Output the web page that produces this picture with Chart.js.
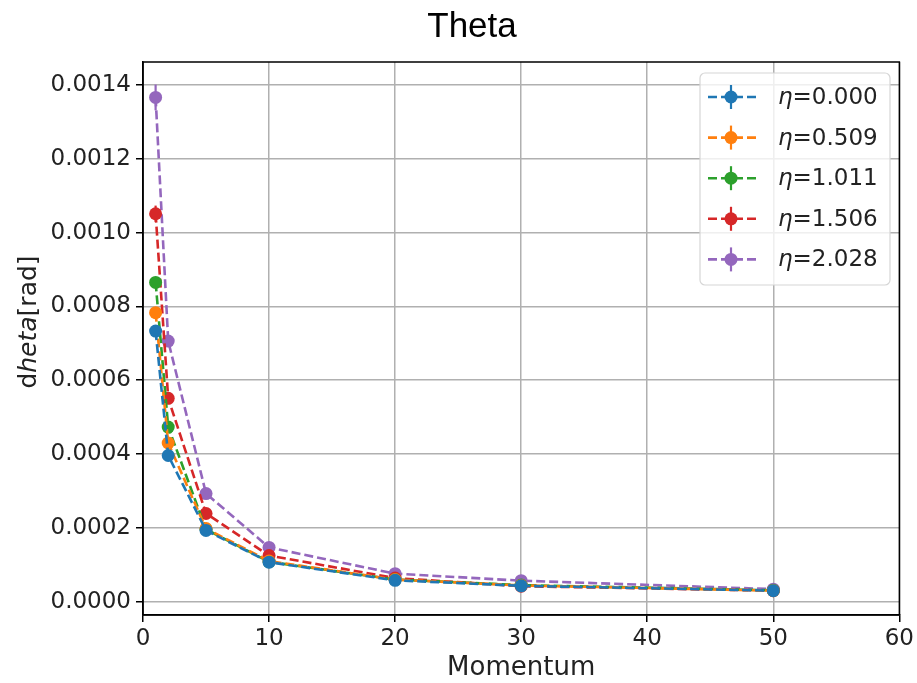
<!DOCTYPE html>
<html>
<head>
<meta charset="utf-8">
<script src="https://cdn.jsdelivr.net/npm/chart.js@4.4.0/dist/chart.umd.min.js"></script>
<style>
  html, body { margin: 0; padding: 0; background: #fff; }
</style>
</head>
<body>
<canvas id="thetaChart" width="917" height="683"></canvas>
<script>
// momentum points
const momentum = [1, 2, 5, 10, 20, 30, 50];
const etaNames = ["0.000", "0.509", "1.011", "1.506", "2.028"];
const yTickValues = [0.0000, 0.0002, 0.0004, 0.0006, 0.0008, 0.0010, 0.0012, 0.0014];

// dtheta values per eta bin
const eta0 = [0.000733, 0.000396, 0.000193, 0.000107, 0.000058, 0.000043, 0.000030];
const eta1 = [0.000783, 0.000430, 0.000198, 0.000110, 0.000060, 0.000044, 0.000030];
const eta2 = [0.000865, 0.000473, 0.000196, 0.000108, 0.000060, 0.000045, 0.000031];
const eta3 = [0.001051, 0.000551, 0.000239, 0.000125, 0.000064, 0.000042, 0.000030];
const eta4 = [0.001366, 0.000706, 0.000293, 0.000147, 0.000076, 0.000057, 0.000034];

// error bars (small)
const err0 = [0.000012, 0.000006, 0.000003, 0.000002, 0.000001, 0.000001, 0.000001];
const err1 = [0.000013, 0.000007, 0.000003, 0.000002, 0.000001, 0.000001, 0.000001];
const err2 = [0.000015, 0.000008, 0.000003, 0.000002, 0.000001, 0.000001, 0.000001];
const err3 = [0.000022, 0.000010, 0.000004, 0.000002, 0.000001, 0.000001, 0.000001];
const err4 = [0.000035, 0.000014, 0.000005, 0.000003, 0.000002, 0.000001, 0.000001];

const colors = ["#1f77b4", "#ff7f0e", "#2ca02c", "#d62728", "#9467bd"];
const allValues = [eta0, eta1, eta2, eta3, eta4];
const allErrors = [err0, err1, err2, err3, err4];

const tickFont = { family: "'DejaVu Sans'", size: 23 };

let datasets = allValues.map((vals, i) => ({
  label: "η=" + etaNames[i],
  data: momentum.map((m, j) => ({ x: m, y: vals[j] })),
  errors: allErrors[i],
  borderColor: colors[i],
  backgroundColor: colors[i],
  borderWidth: 2.6,
  borderDash: [9, 4],
  pointRadius: 6.5,
  pointBorderWidth: 0,
  pointBackgroundColor: colors[i],
  tension: 0,
  fill: false
}));

const errorBars = {
  id: "errorBars",
  beforeDatasetDraw(chart, args) {
    const ds = chart.data.datasets[args.index];
    const ys = chart.scales.y;
    const ctx = chart.ctx;
    ctx.save();
    ctx.strokeStyle = ds.borderColor;
    ctx.lineWidth = 2.2;
    args.meta.data.forEach((pt, j) => {
      const v = ds.data[j].y, e = ds.errors[j];
      ctx.beginPath();
      ctx.moveTo(pt.x, ys.getPixelForValue(v - e));
      ctx.lineTo(pt.x, ys.getPixelForValue(v + e));
      ctx.stroke();
    });
    ctx.restore();
  }
};

const decorations = {
  id: "decorations",
  afterDraw(chart) {
    const ctx = chart.ctx;
    const a = chart.chartArea;
    ctx.save();

    // frame
    ctx.strokeStyle = "#000";
    ctx.lineWidth = 1.5;
    ctx.strokeRect(a.left, a.top, a.right - a.left, a.bottom - a.top);

    // title
    ctx.fillStyle = "#000";
    ctx.font = "35px 'Liberation Sans'";
    ctx.textAlign = "center";
    ctx.textBaseline = "alphabetic";
    ctx.fillText("Theta", 472, 37);

    // x label
    ctx.fillStyle = "#222";
    ctx.font = "26px 'DejaVu Sans'";
    ctx.fillText("Momentum", (a.left + a.right) / 2, 675);

    // y label: d (upright) + heta (italic) + [rad]
    const parts = [["d", "25px 'DejaVu Sans'"], ["heta", "italic 25px 'DejaVu Sans'"], ["[rad]", "25px 'DejaVu Sans'"]];
    let total = 0;
    parts.forEach(p => { ctx.font = p[1]; total += ctx.measureText(p[0]).width; });
    ctx.translate(36, 322);
    ctx.rotate(-Math.PI / 2);
    ctx.textAlign = "left";
    let x = -total / 2;
    parts.forEach(p => { ctx.font = p[1]; ctx.fillText(p[0], x, 0); x += ctx.measureText(p[0]).width; });
    ctx.setTransform(1, 0, 0, 1, 0, 0);

    // legend
    const bx = 700, by = 73, bw = 190, bh = 212;
    ctx.beginPath();
    ctx.roundRect(bx, by, bw, bh, 5);
    ctx.fillStyle = "rgba(255,255,255,0.8)";
    ctx.fill();
    ctx.strokeStyle = "#d6d6d6";
    ctx.lineWidth = 1.2;
    ctx.stroke();
    chart.data.datasets.forEach((ds, i) => {
      const cy = 97 + i * 40.6;
      ctx.strokeStyle = ds.borderColor;
      ctx.lineWidth = 2.6;
      ctx.setLineDash([9, 4]);
      ctx.beginPath();
      ctx.moveTo(708, cy);
      ctx.lineTo(756, cy);
      ctx.stroke();
      ctx.setLineDash([]);
      ctx.lineWidth = 2.2;
      ctx.beginPath();
      ctx.moveTo(731, cy - 12);
      ctx.lineTo(731, cy + 12);
      ctx.stroke();
      ctx.fillStyle = ds.borderColor;
      ctx.beginPath();
      ctx.arc(731, cy, 6.5, 0, Math.PI * 2);
      ctx.fill();
      ctx.fillStyle = "#222";
      ctx.textBaseline = "middle";
      ctx.font = "italic 23px 'DejaVu Sans'";
      ctx.fillText("η", 778, cy + 1);
      const w = ctx.measureText("η").width;
      ctx.font = "23px 'DejaVu Sans'";
      ctx.fillText(ds.label.slice(1), 778 + w, cy + 1);
    });
    ctx.restore();
  }
};

new Chart(document.getElementById("thetaChart"), {
  type: "line",
  data: { datasets: datasets },
  options: {
    responsive: false,
    animation: false,
    layout: { padding: { top: 62, right: 16, left: 0, bottom: 0 } },
    plugins: {
      legend: { display: false },
      title: { display: false },
      tooltip: { enabled: false }
    },
    scales: {
      x: {
        type: "linear",
        min: 0,
        max: 60,
        ticks: { stepSize: 10, font: tickFont, color: "#222", padding: 3, maxRotation: 0 },
        grid: { color: "#b0b0b0", lineWidth: 1.5, tickColor: "#000", tickLength: 7, tickWidth: 1.5 },
        border: { display: true, color: "#000", width: 1.5 },
        afterFit(scale) { scale.height = 68; }
      },
      y: {
        type: "linear",
        min: -0.000036,
        max: 0.001462,
        ticks: {
          font: tickFont,
          color: "#222",
          padding: 5,
          callback: v => v.toFixed(4)
        },
        afterBuildTicks(scale) {
          scale.ticks = yTickValues.map(v => ({ value: v }));
        },
        grid: { color: "#b0b0b0", lineWidth: 1.5, tickColor: "#000", tickLength: 7, tickWidth: 1.5 },
        border: { display: true, color: "#000", width: 1.5 },
        afterFit(scale) { scale.width = 143; }
      }
    }
  },
  plugins: [errorBars, decorations]
});
</script>
</body>
</html>
